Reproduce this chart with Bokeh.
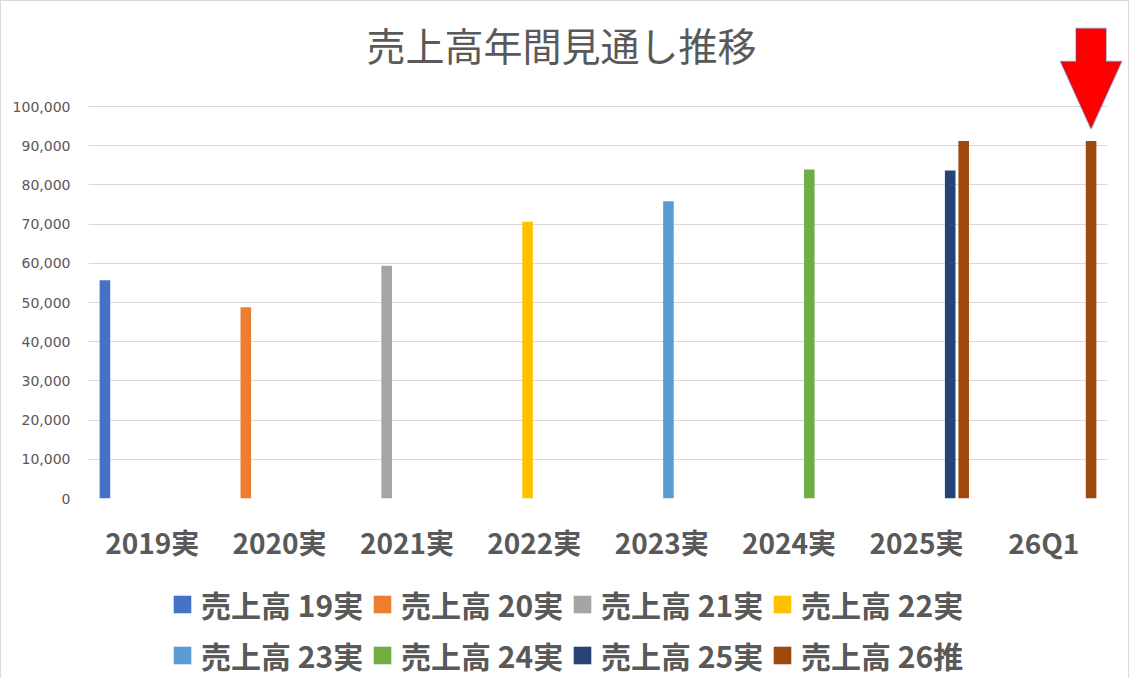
from bokeh.plotting import figure
from bokeh.layouts import column
from bokeh.models import (ColumnDataSource, Range1d, FixedTicker, NumeralTickFormatter,
                          Legend, LegendItem, Label, PolyAnnotation, BoxAnnotation)
from bokeh.embed import file_html
from bokeh.resources import INLINE

# ---------------- data ----------------
title_text = "売上高年間見通し推移"
categories = ["2019実", "2020実", "2021実", "2022実", "2023実", "2024実", "2025実", "26Q1"]
series_names = ["売上高 19実", "売上高 20実", "売上高 21実", "売上高 22実",
                "売上高 23実", "売上高 24実", "売上高 25実", "売上高 26推"]
s19 = [55700, None, None, None, None, None, None, None]
s20 = [None, 48800, None, None, None, None, None, None]
s21 = [None, None, 59400, None, None, None, None, None]
s22 = [None, None, None, 70600, None, None, None, None]
s23 = [None, None, None, None, 75800, None, None, None]
s24 = [None, None, None, None, None, 83900, None, None]
s25 = [None, None, None, None, None, None, 83700, None]
s26 = [None, None, None, None, None, None, 91200, 91200]
series_values = [s19, s20, s21, s22, s23, s24, s25, s26]
colors = ["#4472C4", "#ED7D31", "#A5A5A5", "#FFC000",
          "#5B9BD5", "#70AD47", "#264478", "#9E480E"]
y_ticks = [0, 10000, 20000, 30000, 40000, 50000, 60000, 70000, 80000, 90000, 100000]

# ---------------- layout ----------------
TXT = "#595959"
JP = "Noto Sans CJK JP"
LEFT = 87
RIGHT = 4
CAT_PX = 1019 / len(categories)          # pixel width of one category slot
EXTRA_PX = 17                             # room on the right for the arrow
FRAME_H = 480
Y_END = 100000 * FRAME_H / 392.0
ncat = len(categories)
FIG_W = LEFT + 1019 + EXTRA_PX + RIGHT

p = figure(x_range=Range1d(0, ncat + EXTRA_PX / CAT_PX), y_range=Range1d(0, Y_END),
           frame_width=1019 + EXTRA_PX, frame_height=FRAME_H,
           min_border_left=LEFT, min_border_right=RIGHT, min_border_top=17, min_border_bottom=80,
           output_backend="svg", toolbar_location=None, tools="")
p.outline_line_color = None
p.border_fill_color = "white"

p.xgrid.grid_line_color = None
p.ygrid.grid_line_color = "#D9D9D9"
p.ygrid.grid_line_width = 1

p.yaxis.ticker = FixedTicker(ticks=y_ticks)
p.yaxis.formatter = NumeralTickFormatter(format="0,0")
p.yaxis.axis_line_color = None
p.yaxis.major_tick_line_color = None
p.yaxis.minor_tick_line_color = None
p.yaxis.major_label_standoff = 12
p.yaxis.major_label_text_font = "DejaVu Sans"
p.yaxis.major_label_text_font_size = "14px"
p.yaxis.major_label_text_color = TXT

centers = [i + 0.5 for i in range(ncat)]
p.xaxis.ticker = FixedTicker(ticks=centers)
p.xaxis.major_label_overrides = {c: name for c, name in zip(centers, categories)}
p.xaxis.axis_line_color = None
p.xaxis.major_tick_line_color = None
p.xaxis.minor_tick_line_color = None
p.xaxis.major_label_standoff = 17
p.xaxis.major_label_text_font = JP
p.xaxis.major_label_text_font_size = "28px"
p.xaxis.major_label_text_font_style = "bold"
p.xaxis.major_label_text_color = TXT

n = len(series_names)
step = 0.106
for i, (name, vals, col) in enumerate(zip(series_names, series_values, colors)):
    off = (i - (n - 1) / 2) * step
    xs = [centers[k] + off for k, v in enumerate(vals) if v is not None]
    ys = [v for v in vals if v is not None]
    src = ColumnDataSource(dict(x=xs, val=ys))
    p.vbar(x="x", top="val", width=0.083, bottom=0, source=src,
           fill_color=col, line_color=None)

# white cover for the extra right margin (keeps grid lines ending at the last category)
p.add_layout(BoxAnnotation(left=ncat, fill_color="white", fill_alpha=1.0, line_color=None))

# title inside the extended frame
p.add_layout(Label(x=3.713, y=116000, text=title_text, text_align="center",
                   text_baseline="middle", text_font=JP, text_font_size="39px",
                   text_color=TXT))

# red arrow pointing at the 26Q1 estimate bar
ax = centers[-1] + (n - 1) / 2 * step
tip = s26[-1] + 3100
head = tip + 17200
top = tip + 25600
arrow = PolyAnnotation(
    xs=[ax - 0.118, ax + 0.118, ax + 0.118, ax + 0.24, ax, ax - 0.24, ax - 0.118],
    ys=[top, top, head, head, tip, head, head],
    fill_color="#FF0000", fill_alpha=1.0, line_color="#2F528F", line_width=2)
p.add_layout(arrow)

# ---------------- legend (separate strip) ----------------
lf = figure(width=FIG_W, height=100, x_range=Range1d(0, 1), y_range=Range1d(0, 1),
            min_border=0, output_backend="svg", toolbar_location=None, tools="")
lf.axis.visible = False
lf.grid.grid_line_color = None
lf.outline_line_color = None
items = []
for name, col in zip(series_names, colors):
    # legend proxy glyph, kept outside the visible range of this strip
    r = lf.vbar(x=[-5], top=[-5], width=0.5, fill_color=col, line_color=None)
    items.append(LegendItem(label=name, renderers=[r]))
legend = Legend(items=items, orientation="horizontal", nrows=2, ncols=4,
                location=(83, 1), border_line_color=None, background_fill_color=None,
                label_text_font=JP, label_text_font_size="30px", label_text_font_style="bold",
                label_text_color=TXT, glyph_width=22, glyph_height=22,
                label_standoff=8, label_width=163, spacing=7, padding=10, margin=0)
lf.add_layout(legend)

layout = column(p, lf, spacing=0,
                styles={"border-left": "1px solid #D9D9D9", "border-top": "1px solid #D9D9D9",
                        "border-right": "1px solid #D9D9D9"})
open("out.html", "w").write(file_html(layout, INLINE))
